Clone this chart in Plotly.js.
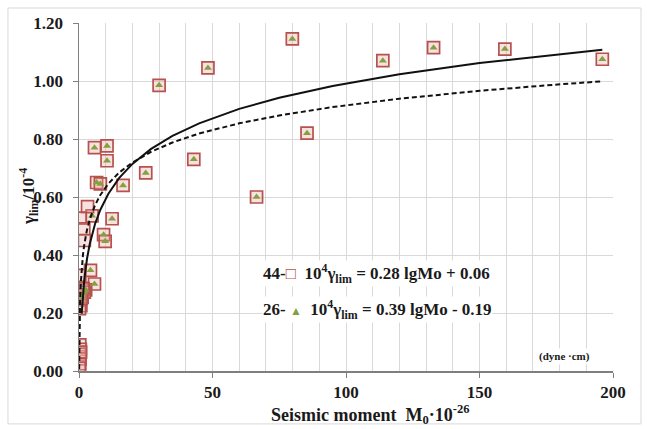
<!DOCTYPE html>
<html>
<head>
<meta charset="utf-8">
<script src="https://cdn.plot.ly/plotly-3.0.1.min.js"></script>
<style>html,body{margin:0;padding:0;background:#fff;}</style>
</head>
<body>
<div id="chart" style="width:647px;height:429px;"></div>
<script>
// Series "44" (open squares)
const sqX = [196.0, 159.5, 132.8, 113.8, 85.4, 79.9, 66.5, 48.3, 43.0, 30.0, 25.0, 16.5, 10.5, 5.8, 10.5, 6.6, 8.0, 12.4, 4.9, 9.2, 9.8, 5.8, 4.3, 2.5, 1.2, 2.0,
             3.2, 0.5, 1.8, 2.0, 0.3, 1.5, 0.4, 0.2, 0.7, 0.2, 0.9, 0.3, 0.5, 0.2, 0.4, 0.3, 0.1, 0.6];
const sqY = [1.075, 1.110, 1.115, 1.070, 0.820, 1.145, 0.600, 1.045, 0.730, 0.985, 0.683, 0.640, 0.776, 0.770, 0.725, 0.650, 0.645, 0.525, 0.535, 0.470, 0.447, 0.300, 0.347, 0.280, 0.255, 0.272,
             0.567, 0.527, 0.490, 0.450, 0.330, 0.285, 0.262, 0.245, 0.225, 0.215, 0.250, 0.090, 0.075, 0.058, 0.042, 0.025, 0.010, 0.065];
// Series "26" (triangles)
const trX = [196.0, 159.5, 132.8, 113.8, 85.4, 79.9, 66.5, 48.3, 43.0, 30.0, 25.0, 16.5, 10.5, 5.8, 10.5, 6.6, 8.0, 12.4, 4.9, 9.2, 9.8, 5.8, 4.3, 2.5, 1.2, 2.0];
const trY = [1.075, 1.110, 1.115, 1.070, 0.820, 1.145, 0.600, 1.045, 0.730, 0.985, 0.683, 0.640, 0.776, 0.770, 0.725, 0.650, 0.645, 0.525, 0.535, 0.470, 0.447, 0.300, 0.347, 0.280, 0.255, 0.272];
// Trend curves
const solidX = [1, 1.5, 2, 3, 4, 6, 8, 11, 15, 20, 27, 35, 45, 60, 75, 95, 120, 150, 175, 196];
const solidY = [0.198, 0.268, 0.317, 0.387, 0.437, 0.507, 0.556, 0.611, 0.665, 0.714, 0.766, 0.811, 0.854, 0.904, 0.942, 0.983, 1.023, 1.062, 1.088, 1.108];
const dashX = [0.06, 0.1, 0.2, 0.4, 0.7, 1, 1.5, 2, 3, 4, 6, 8, 11, 15, 20, 27, 35, 45, 60, 75, 95, 120, 150, 175, 196];
const dashY = [0.007, 0.070, 0.155, 0.240, 0.308, 0.352, 0.402, 0.437, 0.487, 0.522, 0.572, 0.607, 0.646, 0.684, 0.719, 0.756, 0.788, 0.819, 0.854, 0.881, 0.910, 0.939, 0.966, 0.985, 0.999];
const xTicks = [0, 50, 100, 150, 200];
const yTicks = [0, 0.2, 0.4, 0.6, 0.8, 1.0, 1.2];

const FONT = 'Liberation Serif, Times New Roman, serif';
const traces = [
  {x: sqX, y: sqY, type: 'scatter', mode: 'markers', name: '44',
   marker: {symbol: 'square', size: 12, color: 'rgba(235,170,165,0.35)', line: {color: '#b5524e', width: 1.7}}},
  {x: trX, y: trY, type: 'scatter', mode: 'markers', name: '26',
   marker: {symbol: 'triangle-up', size: 7, color: '#86a03e', line: {width: 0}}},
  {x: dashX, y: dashY, type: 'scatter', mode: 'lines', name: 'fit 44',
   line: {color: '#111', width: 2, dash: '5px,3px'}},
  {x: solidX, y: solidY, type: 'scatter', mode: 'lines', name: 'fit 26',
   line: {color: '#111', width: 2}}
];

const layout = {
  width: 647, height: 429,
  margin: {l: 79, r: 34, t: 23, b: 58},
  paper_bgcolor: '#fff', plot_bgcolor: '#fff',
  showlegend: false,
  font: {family: FONT, color: '#222'},
  xaxis: {
    range: [0, 200], tickvals: xTicks, ticktext: xTicks.map(String),
    showgrid: true, gridcolor: '#d9d9d9', gridwidth: 1,
    minor: {dtick: 10, showgrid: true, gridcolor: '#d9d9d9', gridwidth: 1},
    showline: true, linecolor: '#7f7f7f', linewidth: 1.5,
    ticks: 'outside', ticklen: 5, tickcolor: '#7f7f7f',
    zeroline: false, ticklabelstandoff: 0,
    tickfont: {family: FONT, size: 17, color: '#1a1a1a', weight: 'bold'}
  },
  yaxis: {
    range: [0, 1.2], tickvals: yTicks, tickformat: '.2f',
    showgrid: true, gridcolor: '#d9d9d9', gridwidth: 1,
    showline: true, linecolor: '#7f7f7f', linewidth: 1.5,
    ticks: 'outside', ticklen: 5, tickcolor: '#7f7f7f',
    zeroline: false, ticklabelstandoff: 6,
    tickfont: {family: FONT, size: 17, color: '#1a1a1a', weight: 'bold'}
  },
  shapes: [
    {type: 'rect', xref: 'paper', yref: 'paper', x0: -0.133, x1: 1.0524, y0: -0.152, y1: 1.0431,
     line: {color: '#d9d9d9', width: 1}, layer: 'below'}
  ],
  annotations: [
    {xref: 'paper', yref: 'paper', x: -0.0955, y: 0.5, xanchor: 'center', yanchor: 'middle', showarrow: false,
     textangle: -90, text: '<b>γ<sub>lim</sub>/10<sup>-4</sup></b>',
     font: {family: FONT, size: 17, color: '#1a1a1a'}},
    {xref: 'paper', yref: 'paper', x: 0.545, y: -0.125, xanchor: 'center', yanchor: 'middle', showarrow: false,
     text: '<b>Seismic moment  M<sub>0</sub>·10<sup>-26</sup></b>', font: {family: FONT, size: 18, color: '#1a1a1a'}},
    {xref: 'paper', yref: 'paper', x: 0.3427, y: 0.2816, xanchor: 'left', yanchor: 'middle', showarrow: false,
     bgcolor: '#fff', borderpad: 0,
     text: "<b>44-</b><span style='color:#b5524e'><b>□</b></span>  <b>10<sup>4</sup>γ<sub>lim</sub> = 0.28 lgMo + 0.06</b>",
     font: {family: FONT, size: 17, color: '#1a1a1a'}},
    {xref: 'paper', yref: 'paper', x: 0.3427, y: 0.1753, xanchor: 'left', yanchor: 'middle', showarrow: false,
     bgcolor: '#fff', borderpad: 0,
     text: "<b>26- </b><span style='color:#86a03e;font-size:12px'>▲</span>  <b>10<sup>4</sup>γ<sub>lim</sub> = 0.39 lgMo - 0.19</b>",
     font: {family: FONT, size: 17, color: '#1a1a1a'}},
    {xref: 'paper', yref: 'paper', x: 0.910, y: 0.043, xanchor: 'center', yanchor: 'middle', showarrow: false,
     bgcolor: '#fff', borderpad: 1,
     text: '<b>(dyne ·cm)</b>', font: {family: FONT, size: 11, color: '#1a1a1a'}}
  ]
};

Plotly.newPlot('chart', traces, layout, {displayModeBar: false, staticPlot: true});
</script>
</body>
</html>
